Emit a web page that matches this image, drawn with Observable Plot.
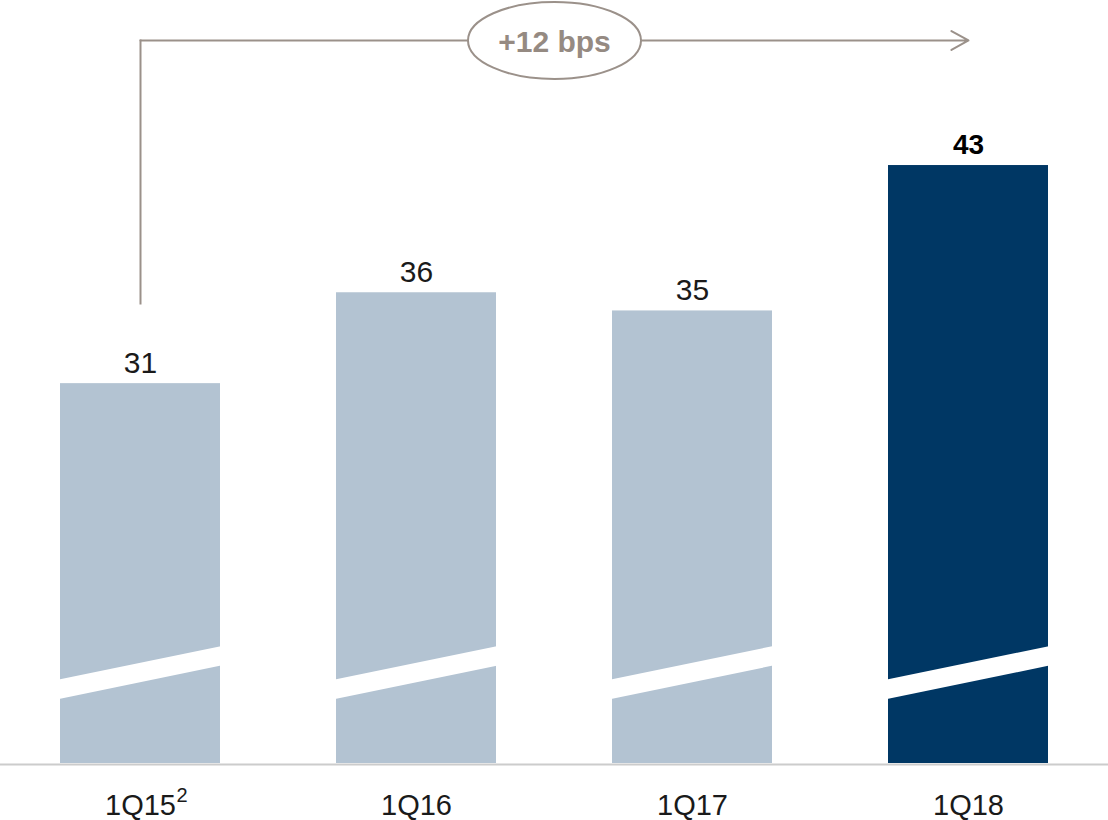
<!DOCTYPE html>
<html><head><meta charset="utf-8">
<script src="https://cdn.jsdelivr.net/npm/d3@7"></script>
<script src="https://cdn.jsdelivr.net/npm/@observablehq/plot@0.6"></script>
<style>body{margin:0;background:#fff} #chart svg{display:block}</style>
</head><body><div id="chart"></div>
<script>
// ---- data ----
const categories = ["1Q15", "1Q16", "1Q17", "1Q18"];
const tickLabels = ["1Q15", "1Q16", "1Q17", "1Q18"];
const footnotes = ["2", "", "", ""];
const values = [31, 36, 35, 43];
const highlight = [false, false, false, true];
const changeLabel = "+12 bps";

// ---- broken-axis geometry (values on the y scale) ----
const axisBase = 10.1;     // value at the (broken) baseline
const axisTop = 52.08;
const breakValue = 15.11;  // where the break band crosses bar centres
const arrowStart = 35.41;
const arrowTop = 49.88;

const LIGHT = "#b3c3d2", DARK = "#003764", GREY = "#9b918a", GREY_TEXT = "#958a82";
const FONT = "'Liberation Sans', Arial, Helvetica, sans-serif";

const data = categories.map((c, i) => ({cat: c, value: values[i], hl: highlight[i], label: tickLabels[i], note: footnotes[i]}));

const ellipse = {
  draw(ctx) {
    const rx = 86.5, ry = 38.5, k = 0.5523;
    ctx.moveTo(rx, 0);
    ctx.bezierCurveTo(rx, ry * k, rx * k, ry, 0, ry);
    ctx.bezierCurveTo(-rx * k, ry, -rx, ry * k, -rx, 0);
    ctx.bezierCurveTo(-rx, -ry * k, -rx * k, -ry, 0, -ry);
    ctx.bezierCurveTo(rx * k, -ry, rx, -ry * k, rx, 0);
    ctx.closePath();
  }
};
const stroke = {draw(ctx, l) { ctx.moveTo(0, 0); ctx.lineTo(0, -l); }};

const chart = Plot.plot({
  width: 1108, height: 820,
  marginTop: 0, marginBottom: 57, marginLeft: 0, marginRight: 0,
  style: {fontFamily: FONT, background: "#fff", color: "#1a1a1a"},
  x: {domain: categories, paddingInner: 0.421, paddingOuter: 0.215},
  y: {domain: [axisBase, axisTop], axis: null},
  marks: [
    Plot.barY(data, {x: "cat", y1: () => axisBase, y2: "value", fill: d => d.hl ? DARK : LIGHT}),
    Plot.vector(data, {x: "cat", y: () => breakValue, length: 200, rotate: 78.35, anchor: "middle",
      shape: stroke, stroke: "white", strokeWidth: 19.1, strokeLinecap: "butt"}),
    Plot.ruleY([axisBase], {stroke: "#cccccc", strokeWidth: 2, dy: 1}),
    Plot.text(data.filter(d => !d.hl), {x: "cat", y: "value", text: d => String(d.value),
      lineAnchor: "bottom", dy: -11, fontSize: 30, fill: "#1a1a1a"}),
    Plot.text(data.filter(d => d.hl), {x: "cat", y: "value", text: d => String(d.value),
      lineAnchor: "bottom", dy: -12, fontSize: 28, fontWeight: "bold", fill: "#000"}),
    Plot.axisX({tickSize: 0, tickPadding: 31, fontSize: 29, fill: "#1a1a1a",
      tickFormat: d => tickLabels[categories.indexOf(d)]}),
    Plot.text(data.filter(d => d.note), {x: "cat", text: "note", frameAnchor: "bottom",
      textAnchor: "start", lineAnchor: "bottom", dx: 36, dy: 38, fontSize: 20, fill: "#1a1a1a"}),
    Plot.line([{x: categories[0], y: arrowStart}, {x: categories[0], y: arrowTop}],
      {x: "x", y: "y", stroke: GREY, strokeWidth: 2, strokeLinecap: "square"}),
    Plot.arrow([changeLabel], {x1: () => categories[0], y1: () => arrowTop,
      x2: () => categories[categories.length - 1], y2: () => arrowTop,
      stroke: GREY, strokeWidth: 2, headLength: 14.6, headAngle: 58}),
    Plot.dot([changeLabel], {y: () => arrowTop, symbol: ellipse, fill: "white", stroke: GREY, strokeWidth: 2}),
    Plot.text([changeLabel], {y: () => arrowTop, text: d => d, fontSize: 30, fontWeight: "bold",
      fill: GREY_TEXT, dy: 2})
  ]
});
document.getElementById("chart").append(chart);
</script>
</body></html>
